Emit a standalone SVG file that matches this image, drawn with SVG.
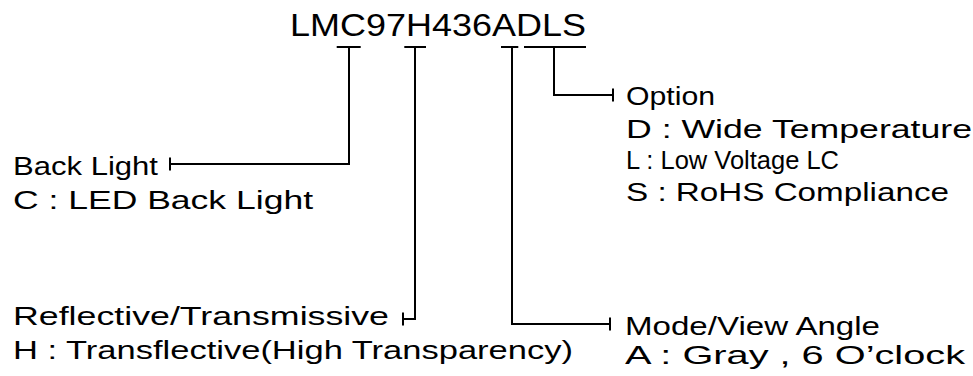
<svg xmlns="http://www.w3.org/2000/svg" width="973" height="376" viewBox="0 0 973 376">
<style>
text{font-family:"Liberation Sans","DejaVu Sans",sans-serif;fill:#000}
.t{font-size:32px}
.b{font-size:26px}
.ln{fill:none;stroke:#000;stroke-width:2}
</style>
<rect width="973" height="376" fill="#fff"/>
<g id="title">
<text class="t" x="290" y="36" textLength="296" lengthAdjust="spacingAndGlyphs">LMC97H436ADLS</text>
</g>
<g id="connectors" class="ln">
<path d="M336.7 47H360.7M404.3 47H426M501 47H518.3M524 47H586"/>
<path d="M349 47V164H170M170 157.5V170.5"/>
<path d="M415 47V319H403M403 312.5V325.5"/>
<path d="M512 47V324H610M610 317.5V330.5"/>
<path d="M554 47V95H613M613 88.5V101.5"/>
</g>
<g id="backlight">
<text class="b" x="13" y="175" textLength="145" lengthAdjust="spacingAndGlyphs">Back Light</text>
<text class="b" x="13" y="209" textLength="300" lengthAdjust="spacingAndGlyphs">C : LED Back Light</text>
</g>
<g id="reflective">
<text class="b" x="13" y="325" textLength="376" lengthAdjust="spacingAndGlyphs">Reflective/Transmissive</text>
<text class="b" x="13" y="359" textLength="560" lengthAdjust="spacingAndGlyphs">H : Transflective(High Transparency)</text>
</g>
<g id="mode">
<text class="b" x="625" y="335" textLength="255" lengthAdjust="spacingAndGlyphs">Mode/View Angle</text>
<text class="b" x="625" y="364" textLength="340" lengthAdjust="spacingAndGlyphs">A : Gray , 6 O’clock</text>
</g>
<g id="option">
<text class="b" x="626" y="105" textLength="89" lengthAdjust="spacingAndGlyphs">Option</text>
<text class="b" x="626" y="138" textLength="346" lengthAdjust="spacingAndGlyphs">D : Wide Temperature</text>
<text class="b" x="626" y="169" textLength="213" lengthAdjust="spacingAndGlyphs">L : Low Voltage LC</text>
<text class="b" x="626" y="201" textLength="323" lengthAdjust="spacingAndGlyphs">S : RoHS Compliance</text>
</g>
</svg>
